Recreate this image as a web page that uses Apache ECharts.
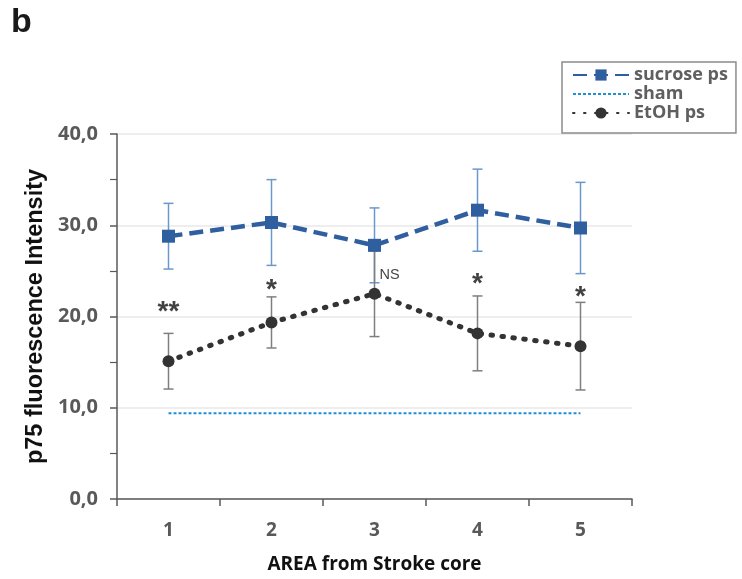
<!DOCTYPE html>
<html>
<head>
<meta charset="utf-8">
<script src="https://cdn.jsdelivr.net/npm/echarts@6/dist/echarts.min.js"></script>
<style>html,body{margin:0;padding:0;background:#fff}#c{width:742px;height:579px}</style>
</head>
<body>
<div id="c"></div>
<script>
const categories = ['1', '2', '3', '4', '5'];
const sucroseMean = [28.8, 30.3, 27.8, 31.65, 29.7];
const sucroseErr = [3.6, 4.7, 4.1, 4.5, 5.0];
const etohMean = [15.1, 19.35, 22.5, 18.15, 16.75];
const etohErr = [3.05, 2.8, 4.7, 4.1, 4.8];
const shamValue = [9.4, 9.4, 9.4, 9.4, 9.4];
const annotY = [21.2, 23.6, 24.6, 24.3, 22.9];
const annotText = ['**', '*', 'NS', '*', '*'];
const yTicks = [0, 10, 20, 30, 40];

const chart = echarts.init(document.getElementById('c'), null, {renderer: 'canvas'});
const gray = '#595959';
const lblFont = 'Open Sans';

function errData(mean, err) {
  return mean.map((m, i) => [i, m - err[i], m + err[i]]);
}
function errSeries(name, mean, err, color) {
  return {
    type: 'custom', name: name, z: 1,
    data: errData(mean, err),
    encode: {x: 0, y: [1, 2]},
    renderItem: function (params, api) {
      const x = api.value(0);
      const lo = api.coord([x, api.value(1)]);
      const hi = api.coord([x, api.value(2)]);
      const hw = 5;
      const st = {stroke: color, lineWidth: 1.5};
      return {type: 'group', children: [
        {type: 'line', shape: {x1: lo[0], y1: lo[1], x2: hi[0], y2: hi[1]}, style: st},
        {type: 'line', shape: {x1: lo[0] - hw, y1: lo[1], x2: lo[0] + hw, y2: lo[1]}, style: st},
        {type: 'line', shape: {x1: hi[0] - hw, y1: hi[1], x2: hi[0] + hw, y2: hi[1]}, style: st}
      ]};
    }
  };
}

const option = {
  animation: false,
  backgroundColor: '#fff',
  graphic: [{type: 'text', left: 11, top: 6, style: {text: 'b', font: 'bold 34px Arial', fill: '#1a1a1a'}}],
  grid: {left: 117, right: 110, top: 134, bottom: 79},
  legend: {
    orient: 'vertical', left: 562, top: 62,
    data: [
      {name: 'sucrose ps'},
      {name: 'sham', itemStyle: {opacity: 0}},
      {name: 'EtOH ps'}
    ],
    borderColor: '#8c8c8c', borderWidth: 1.5, borderRadius: 0,
    padding: [4, 8, 11, 10], itemGap: 1, itemWidth: 56, itemHeight: 14,
    textStyle: {fontFamily: lblFont, fontWeight: 'bold', fontSize: 18, lineHeight: 18, color: '#5f5f5f'}
  },
  xAxis: {
    type: 'category', data: categories, boundaryGap: true,
    name: 'AREA from Stroke core', nameLocation: 'middle', nameGap: 56,
    nameTextStyle: {fontFamily: lblFont, fontWeight: 'bold', fontSize: 19, color: '#111'},
    axisLine: {lineStyle: {color: gray, width: 1.5}},
    axisTick: {show: true, length: 7, lineStyle: {color: gray, width: 1.5}},
    axisLabel: {fontFamily: lblFont, fontWeight: 'bold', fontSize: 19, color: gray, margin: 22}
  },
  yAxis: {
    type: 'value', min: 0, max: 40, interval: 10,
    name: 'p75 fluorescence Intensity', nameLocation: 'middle', nameGap: 62,
    nameTextStyle: {fontFamily: 'Arial', fontWeight: 'bold', fontSize: 23.5, color: '#111'},
    axisLine: {show: true, lineStyle: {color: gray, width: 1.5}},
    axisTick: {show: true, length: 7, lineStyle: {color: gray, width: 1.5}},
    minorTick: {show: true, splitNumber: 2, length: 7, lineStyle: {color: gray, width: 1.2}},
    splitLine: {show: true, lineStyle: {color: '#e9e9e9', width: 1.5}},
    axisLabel: {fontFamily: lblFont, fontWeight: 'bold', fontSize: 20, color: gray, margin: 19,
      formatter: v => yTicks.includes(v) ? v.toFixed(1).replace('.', ',') : ''}
  },
  series: [
    errSeries('sucErr', sucroseMean, sucroseErr, '#6b98cc'),
    errSeries('etohErr', etohMean, etohErr, '#7f7f7f'),
    {
      name: 'sham', type: 'line', data: shamValue, symbol: 'none', z: 2,
      lineStyle: {color: '#1e90d4', width: 2, type: [3, 2]}, itemStyle: {color: '#1e90d4'}
    },
    {
      name: 'sucrose ps', type: 'line', data: sucroseMean, z: 3,
      symbol: 'rect', symbolSize: 13,
      lineStyle: {color: '#2f5f9f', width: 4.5, type: [14, 7]},
      itemStyle: {color: '#2f5f9f'}
    },
    {
      name: 'EtOH ps', type: 'line', data: etohMean, z: 3,
      symbol: 'circle', symbolSize: 12,
      lineStyle: {color: '#333333', width: 5, type: [1.5, 9.5], cap: 'round'},
      itemStyle: {color: '#333333'}
    },
    {
      name: 'annot', type: 'scatter', symbolSize: 0, z: 4,
      data: annotY.map((y, i) => ({
        value: [i, y],
        label: annotText[i] === 'NS'
          ? {fontFamily: 'Arial', fontSize: 14.5, fontWeight: 'normal', offset: [15, 0]}
          : {fontFamily: 'Arial', fontSize: 28, fontWeight: 'bold', offset: [0, 7]}
      })),
      label: {
        show: true, position: 'inside', color: '#111',
        formatter: p => annotText[p.dataIndex]
      },
      emphasis: {disabled: true}
    }
  ]
};
chart.setOption(option);
</script>
</body>
</html>
